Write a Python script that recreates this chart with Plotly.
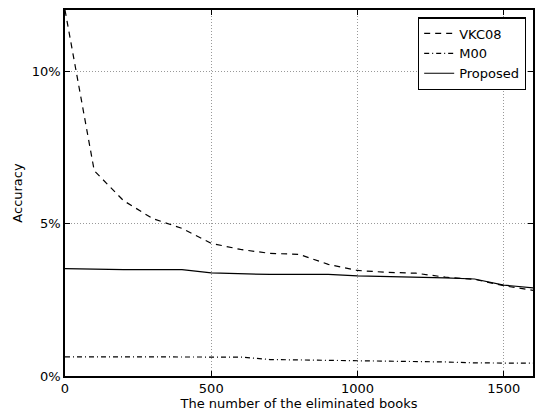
import plotly.graph_objects as go

x_books = [0, 100, 200, 300, 400, 500, 600, 700, 800, 900, 1000, 1100, 1200, 1300, 1400, 1500, 1600]
vkc08 = [0.120, 0.0673, 0.0575, 0.0516, 0.0484, 0.0435, 0.0415, 0.0402, 0.0399, 0.0366, 0.0346, 0.0340, 0.0337, 0.0324, 0.0317, 0.0296, 0.0281]
m00 = [0.0063, 0.0063, 0.0063, 0.0063, 0.0063, 0.0063, 0.0062, 0.0054, 0.0053, 0.0052, 0.0051, 0.0050, 0.0049, 0.0046, 0.0043, 0.0043, 0.0042]
proposed = [0.0352, 0.0350, 0.0349, 0.0349, 0.0349, 0.0338, 0.0335, 0.0333, 0.0333, 0.0333, 0.0328, 0.0326, 0.0325, 0.0322, 0.0318, 0.0298, 0.0289]

x_ticks = [0, 500, 1000, 1500]
y_ticks = [0, 0.05, 0.10]
y_tick_labels = ["0%", "5%", "10%"]

fig = go.Figure()
fig.add_trace(go.Scatter(x=x_books, y=vkc08, mode="lines", name="VKC08",
                         line=dict(color="black", width=1.2, dash="6px,5px")))
fig.add_trace(go.Scatter(x=x_books, y=m00, mode="lines", name="M00",
                         line=dict(color="black", width=1.2, dash="5px,3px,1px,3px")))
fig.add_trace(go.Scatter(x=x_books, y=proposed, mode="lines", name="Proposed",
                         line=dict(color="black", width=1.2)))

axis_common = dict(showline=True, linecolor="black", linewidth=1.5, mirror="ticks",
                   ticks="inside", ticklen=5, tickcolor="black",
                   showgrid=True, gridcolor="#999999", griddash="1px,2px", gridwidth=1,
                   zeroline=False, tickfont=dict(size=13, color="black"))

fig.update_xaxes(range=[0, 1600], tickvals=x_ticks,
                 title=dict(text="The number of the eliminated books", font=dict(size=13, color="black"), standoff=2),
                 **axis_common)
fig.update_yaxes(range=[0, 0.12], tickvals=y_ticks, ticktext=y_tick_labels,
                 title=dict(text="Accuracy", font=dict(size=13, color="black"), standoff=6),
                 **axis_common)

fig.update_layout(
    width=538, height=412,
    margin=dict(l=65, r=3, t=10, b=36),
    plot_bgcolor="white", paper_bgcolor="white",
    font=dict(family="DejaVu Sans", color="black", size=13),
    legend=dict(x=0.985, y=0.98, xanchor="right", yanchor="top",
                bordercolor="black", borderwidth=1.2, bgcolor="white",
                font=dict(size=13), tracegroupgap=0),
    showlegend=True,
)

fig.write_html("out.html")
